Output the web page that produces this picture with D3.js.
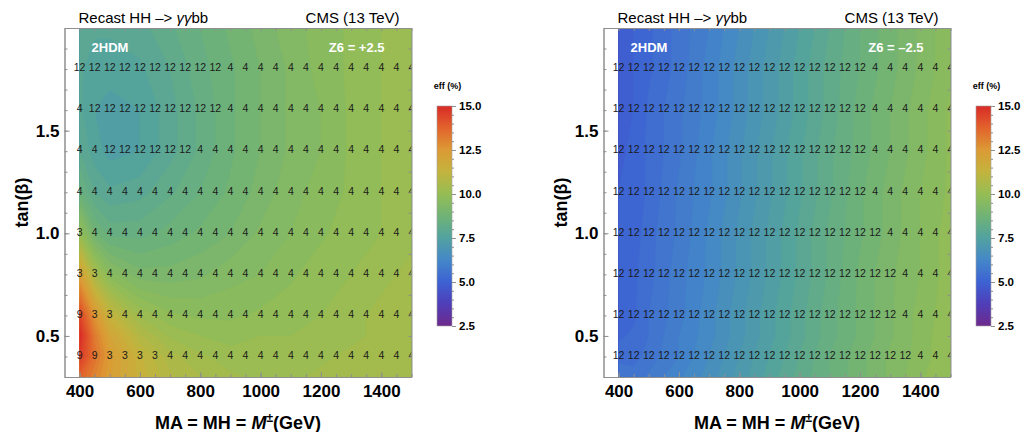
<!DOCTYPE html>
<html lang="en">
<head>
<meta charset="UTF-8">
<title>2HDM recast HH -> yybb efficiency</title>
<script src="https://cdn.jsdelivr.net/npm/d3@7"></script>
<style>
  body { margin: 0; background: #fff; }
  text { font-family: "Liberation Sans", Arial, sans-serif; }
</style>
</head>
<body>
<svg id="chart" width="1021" height="432"></svg>
<script>
let massGrid = [400, 450, 500, 600, 700, 800, 900, 1000, 1100, 1200, 1300, 1400, 1500];
let tanbGrid = [2.0, 1.8, 1.6, 1.4, 1.2, 1.0, 0.8, 0.6, 0.5, 0.4, 0.3];

// Z6 = +2.5
let effPlus = [
  [7.9, 7.8, 7.8, 7.9, 8.2, 8.5, 8.8, 9.1, 9.4, 9.6, 9.8, 10.0, 10.1],
  [7.8, 7.6, 7.6, 7.7, 8.0, 8.4, 8.7, 9.0, 9.3, 9.6, 9.8, 10.0, 10.1],
  [7.8, 7.5, 7.4, 7.5, 7.9, 8.3, 8.7, 9.0, 9.3, 9.5, 9.8, 10.0, 10.1],
  [8.0, 7.6, 7.4, 7.5, 7.9, 8.3, 8.7, 9.0, 9.3, 9.5, 9.8, 10.0, 10.1],
  [8.6, 8.0, 7.8, 7.9, 8.2, 8.5, 8.8, 9.1, 9.4, 9.6, 9.8, 10.0, 10.1],
  [10.0, 8.8, 8.4, 8.4, 8.6, 8.8, 9.0, 9.3, 9.5, 9.7, 9.9, 10.0, 10.2],
  [12.3, 10.5, 9.6, 9.1, 9.1, 9.2, 9.4, 9.5, 9.7, 9.9, 10.0, 10.2, 10.3],
  [14.4, 12.6, 11.3, 10.2, 9.8, 9.7, 9.7, 9.8, 9.9, 10.0, 10.2, 10.3, 10.4],
  [15.0, 13.2, 12.0, 10.8, 10.2, 10.0, 9.9, 10.0, 10.0, 10.1, 10.2, 10.3, 10.4],
  [14.6, 13.4, 12.4, 11.3, 10.6, 10.3, 10.1, 10.1, 10.1, 10.2, 10.3, 10.4, 10.5],
  [13.8, 13.0, 12.3, 11.4, 10.8, 10.5, 10.3, 10.2, 10.2, 10.3, 10.3, 10.4, 10.5]
];

// Z6 = -2.5
let effMinus = [
  [4.9, 5.0, 5.2, 5.6, 6.0, 6.5, 7.0, 7.5, 8.0, 8.5, 8.9, 9.3, 9.7],
  [4.9, 5.0, 5.2, 5.6, 6.1, 6.6, 7.1, 7.6, 8.1, 8.5, 8.9, 9.3, 9.7],
  [4.9, 5.0, 5.3, 5.7, 6.1, 6.6, 7.1, 7.6, 8.1, 8.6, 9.0, 9.4, 9.8],
  [4.9, 5.1, 5.3, 5.7, 6.2, 6.7, 7.2, 7.7, 8.2, 8.6, 9.0, 9.4, 9.8],
  [5.0, 5.1, 5.3, 5.8, 6.2, 6.7, 7.2, 7.7, 8.2, 8.7, 9.1, 9.5, 9.8],
  [5.0, 5.1, 5.4, 5.8, 6.3, 6.8, 7.3, 7.8, 8.3, 8.7, 9.1, 9.5, 9.9],
  [5.0, 5.2, 5.4, 5.9, 6.3, 6.8, 7.3, 7.8, 8.3, 8.8, 9.2, 9.5, 9.9],
  [5.1, 5.2, 5.5, 5.9, 6.4, 6.9, 7.4, 7.9, 8.4, 8.8, 9.2, 9.6, 9.9],
  [5.2, 5.3, 5.5, 6.0, 6.4, 6.9, 7.4, 7.9, 8.4, 8.8, 9.2, 9.6, 10.0],
  [5.4, 5.4, 5.6, 6.0, 6.5, 7.0, 7.5, 8.0, 8.5, 8.9, 9.3, 9.6, 10.0],
  [5.7, 5.6, 5.8, 6.2, 6.6, 7.1, 7.6, 8.1, 8.5, 8.9, 9.3, 9.7, 10.0]
];

// the small numbers printed on the benchmark points
let labelMass = [400, 450, 500, 550, 600, 650, 700, 750, 800, 850, 900, 950, 1000,
                 1050, 1100, 1150, 1200, 1250, 1300, 1350, 1400, 1450, 1500];
let labelTanb = [1.8, 1.6, 1.4, 1.2, 1.0, 0.8, 0.6, 0.4];
let labelsPlus = [
  [12,12,12,12,12,12,12,12,12,12,4,4,4,4,4,4,4,4,4,4,4,4,4],
  [4,12,12,12,12,12,12,12,12,12,4,4,4,4,4,4,4,4,4,4,4,4,4],
  [4,4,12,12,12,12,12,12,4,4,4,4,4,4,4,4,4,4,4,4,4,4,4],
  [4,4,4,4,4,4,4,4,4,4,4,4,4,4,4,4,4,4,4,4,4,4,4],
  [3,4,4,4,4,4,4,4,4,4,4,4,4,4,4,4,4,4,4,4,4,4,4],
  [3,3,4,4,4,4,4,4,4,4,4,4,4,4,4,4,4,4,4,4,4,4,4],
  [9,3,3,4,4,4,4,4,4,4,4,4,4,4,4,4,4,4,4,4,4,4,4],
  [9,9,3,3,3,3,4,4,4,4,4,4,4,4,4,4,4,4,4,4,4,4,4]
];
let labelsMinus = [
  [12,12,12,12,12,12,12,12,12,12,12,12,12,12,12,12,12,4,4,4,4,4,4],
  [12,12,12,12,12,12,12,12,12,12,12,12,12,12,12,12,12,4,4,4,4,4,4],
  [12,12,12,12,12,12,12,12,12,12,12,12,12,12,12,12,12,4,4,4,4,4,4],
  [12,12,12,12,12,12,12,12,12,12,12,12,12,12,12,12,12,4,4,4,4,4,4],
  [12,12,12,12,12,12,12,12,12,12,12,12,12,12,12,12,12,12,4,4,4,4,4],
  [12,12,12,12,12,12,12,12,12,12,12,12,12,12,12,12,12,12,12,4,4,4,4],
  [12,12,12,12,12,12,12,12,12,12,12,12,12,12,12,12,12,12,12,4,4,4,4],
  [12,12,12,12,12,12,12,12,12,12,12,12,12,12,12,12,12,12,12,12,4,4,4]
];

let xTicks = [400, 600, 800, 1000, 1200, 1400];
let yTicks = [0.5, 1.0, 1.5];
let barTicks = [2.5, 5.0, 7.5, 10.0, 12.5, 15.0];

// rainbow colour function
let cStops = [2.5, 3.75, 5.0, 6.25, 7.5, 8.75, 10.0, 11.25, 12.5, 13.75, 15.0];
let cColours = ['#6e2a8c', '#4f3eb8', '#3d62d3', '#4487c8', '#52a2a0', '#70b376',
                '#95bd54', '#c3b43e', '#dc9a35', '#e2632c', '#d92b27'];

let svg = d3.select('svg#chart');
let cmap = d3.scaleLinear().domain(cStops).range(cColours).clamp(true);
let levels = d3.range(2.5, 15.001, 0.25);
let frameCol = '#8f8f8f';

function drawPanel(dx, eff, labels, z6) {
    let x = d3.scaleLinear().domain([350, 1500]).range([64.5 + dx, 411.5 + dx]);
    let y = d3.scaleLinear().domain([0.3, 2.0]).range([377, 28]);
    let g = svg.append('g');

    // data area clip and frame clip
    let cid = 'c' + dx, fid = 'f' + dx;
    g.append('clipPath').attr('id', cid).append('rect')
        .attr('x', x(400)).attr('y', y(2.0))
        .attr('width', x(1500) - x(400)).attr('height', y(0.3) - y(2.0));
    g.append('clipPath').attr('id', fid).append('rect')
        .attr('x', x(350)).attr('y', y(2.0))
        .attr('width', x(1500) - x(350)).attr('height', y(0.3) - y(2.0));

    // contour bands, grid index -> data coordinates
    let iX = d3.scaleLinear().domain(d3.range(massGrid.length)).range(massGrid).clamp(true);
    let iY = d3.scaleLinear().domain(d3.range(tanbGrid.length)).range(tanbGrid).clamp(true);
    let proj = d3.geoTransform({
        point: function (px, py) { this.stream.point(x(iX(px - 0.5)), y(iY(py - 0.5))); }
    });
    let path = d3.geoPath(proj);
    let bands = d3.contours()
        .size([massGrid.length, tanbGrid.length])
        .thresholds(levels)(eff.flat());

    g.append('g').attr('clip-path', 'url(#' + cid + ')')
        .selectAll('path').data(bands).join('path')
        .attr('d', path)
        .attr('fill', d => cmap(d.value + 0.125))
        .attr('stroke', d => cmap(d.value + 0.125))
        .attr('stroke-width', 0.6);

    // point labels
    let pts = [];
    labels.forEach(function (row, r) {
        row.forEach(function (v, c) { pts.push({m: labelMass[c], t: labelTanb[r], v: v}); });
    });
    g.append('g').attr('clip-path', 'url(#' + fid + ')')
        .selectAll('text').data(pts).join('text')
        .attr('x', d => x(d.m)).attr('y', d => y(d.t))
        .attr('text-anchor', 'middle').attr('dy', '0.22em')
        .style('font-size', '10.5px').style('fill', '#1a1a1a')
        .text(d => d.v);

    // frame with inward ticks
    let minorX = d3.range(400, 1501, 50), minorY = d3.range(3, 21).map(d => d / 10);
    let styleAxis = function (sel) {
        sel.select('.domain').attr('stroke', frameCol);
        sel.selectAll('.tick line').attr('stroke', frameCol);
    };
    g.append('g').attr('transform', 'translate(0,' + y(0.3) + ')')
        .call(d3.axisBottom(x).tickValues(minorX).tickSize(-3).tickSizeOuter(0).tickFormat(''))
        .call(styleAxis);
    g.append('g').attr('transform', 'translate(0,' + y(0.3) + ')')
        .call(d3.axisBottom(x).tickValues(xTicks).tickSize(-5).tickSizeOuter(0).tickPadding(8)
            .tickFormat(d3.format('d')))
        .call(styleAxis)
        .call(s => s.selectAll('text').style('font-size', '17px').style('font-weight', 'bold')
            .style('font-family', '"Liberation Sans", Arial, sans-serif').attr('fill', '#000'));
    g.append('g').attr('transform', 'translate(0,' + y(2.0) + ')')
        .call(d3.axisTop(x).tickValues(minorX).tickSize(-3).tickSizeOuter(0).tickFormat(''))
        .call(styleAxis);
    g.append('g').attr('transform', 'translate(' + x(350) + ',0)')
        .call(d3.axisLeft(y).tickValues(minorY).tickSize(-3).tickSizeOuter(0).tickFormat(''))
        .call(styleAxis);
    g.append('g').attr('transform', 'translate(' + x(350) + ',0)')
        .call(d3.axisLeft(y).tickValues(yTicks).tickSize(-5).tickSizeOuter(0).tickPadding(5)
            .tickFormat(d3.format('.1f')))
        .call(styleAxis)
        .call(s => s.selectAll('text').style('font-size', '17px').style('font-weight', 'bold')
            .style('font-family', '"Liberation Sans", Arial, sans-serif').attr('fill', '#000'));
    g.append('g').attr('transform', 'translate(' + x(1500) + ',0)')
        .call(d3.axisRight(y).tickValues(minorY).tickSize(-3).tickSizeOuter(0).tickFormat(''))
        .call(styleAxis);

    // titles
    let t = g.append('text').attr('x', x(350) + 14).attr('y', 23).style('font-size', '15px');
    t.append('tspan').text('Recast HH \u2013> ');
    t.append('tspan').style('font-style', 'italic').text('\u03b3\u03b3');
    t.append('tspan').text('bb');
    g.append('text').attr('x', x(1500) - 12).attr('y', 23).attr('text-anchor', 'end')
        .style('font-size', '15px').text('CMS (13 TeV)');
    g.append('text').attr('x', x(400) + 12).attr('y', 52)
        .style('font-size', '13px').style('font-weight', 'bold').style('fill', '#fff').text('2HDM');
    g.append('text').attr('x', x(1500) - 27).attr('y', 52).attr('text-anchor', 'end')
        .style('font-size', '13px').style('font-weight', 'bold').style('fill', '#fff').text(z6);

    let xt = g.append('text').attr('x', (x(350) + x(1500)) / 2).attr('y', 429)
        .attr('text-anchor', 'middle').style('font-size', '18px').style('font-weight', 'bold');
    xt.append('tspan').text('MA = MH = ');
    xt.append('tspan').style('font-style', 'italic').text('M');
    xt.append('tspan').attr('dy', '-7').style('font-size', '12px').text('\u00b1');
    xt.append('tspan').attr('dy', '7').text('(GeV)');

    g.append('text').attr('transform', 'translate(' + (dx + 28) + ',' + ((y(0.3) + y(2.0)) / 2) + ') rotate(-90)')
        .attr('text-anchor', 'middle').style('font-size', '18px').style('font-weight', 'bold')
        .text('tan(\u03b2)');

    // colour bar
    let bx = 437 + dx, bw = 15;
    let cy = d3.scaleLinear().domain([2.5, 15]).range([326, 106]);
    let gid = 'grad' + dx;
    let grad = g.append('defs').append('linearGradient').attr('id', gid)
        .attr('x1', 0).attr('y1', 1).attr('x2', 0).attr('y2', 0);
    grad.selectAll('stop').data(cStops).join('stop')
        .attr('offset', d => (d - 2.5) / 12.5)
        .attr('stop-color', d => cmap(d));
    g.append('rect').attr('x', bx).attr('y', cy(15)).attr('width', bw).attr('height', cy(2.5) - cy(15))
        .attr('fill', 'url(#' + gid + ')').attr('stroke', '#a0a0a0').attr('stroke-width', 0.6);
    g.append('g').attr('transform', 'translate(' + (bx + bw) + ',0)')
        .call(d3.axisRight(cy).tickValues(d3.range(2.5, 15.01, 0.5)).tickSize(2).tickSizeOuter(0).tickFormat(''))
        .call(s => { s.select('.domain').remove(); s.selectAll('.tick line').attr('stroke', frameCol); });
    g.append('g').attr('transform', 'translate(' + (bx + bw) + ',0)')
        .call(d3.axisRight(cy).tickValues(barTicks).tickSize(4).tickSizeOuter(0).tickPadding(3)
            .tickFormat(d3.format('.1f')))
        .call(s => { s.select('.domain').remove(); s.selectAll('.tick line').attr('stroke', frameCol); })
        .call(s => s.selectAll('text').style('font-size', '11.5px').style('font-weight', 'bold')
            .style('font-family', '"Liberation Sans", Arial, sans-serif').attr('fill', '#000'));
    g.append('text').attr('x', bx + bw / 2 + 3).attr('y', 89).attr('text-anchor', 'middle')
        .style('font-size', '9px').style('font-weight', 'bold').text('eff (%)');
}

drawPanel(0, effPlus, labelsPlus, 'Z6 = +2.5');
drawPanel(539, effMinus, labelsMinus, 'Z6 = \u20132.5');
</script>
</body>
</html>
